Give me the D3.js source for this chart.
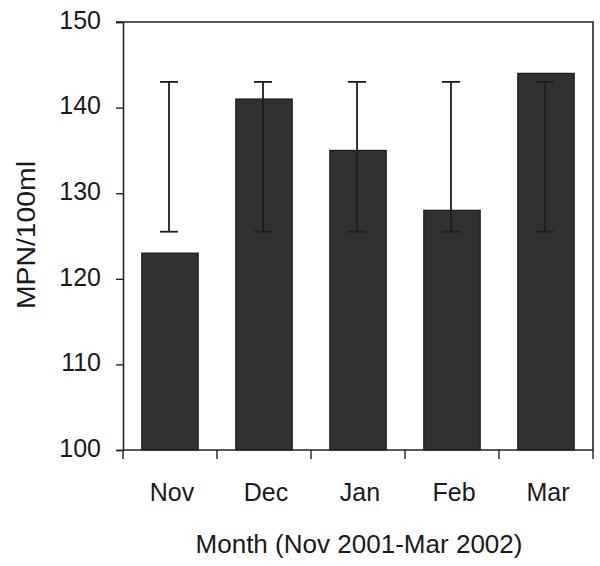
<!DOCTYPE html>
<meta charset="utf-8">
<style>
html,body{ margin:0; background:#fff; }
text{ font-family:"Liberation Sans", Arial, sans-serif; fill:#1a1a1a; }
</style>
<body>
<script src="https://d3js.org/d3.v7.min.js"></script>
<script>

var months = ["Nov","Dec","Jan","Feb","Mar"];
var mpn = [123, 141, 135, 128, 144];
var errLow = [125.5, 125.5, 125.5, 125.5, 125.5];
var errHigh = [143, 143, 143, 143, 143];
var yTicks = [100, 110, 120, 130, 140, 150];

var width = 600, height = 566;
var plotL = 123, plotR = 593, plotT = 22, plotB = 450;

var svg = d3.select("body").append("svg")
    .attr("width", width)
    .attr("height", height);

var x = d3.scaleBand()
    .domain(months)
    .range([plotL, plotR])
    .paddingInner(0.4)
    .paddingOuter(0.2);

var xb = d3.scaleBand().domain(months).range([plotL, plotR]);

var y = d3.scaleLinear()
    .domain([100, 150])
    .range([plotB, plotT]);

// frame top + right
svg.append("path")
    .attr("d", "M" + (plotL - 7) + "," + plotT + "H" + plotR + "V" + plotB)
    .attr("fill", "none")
    .attr("stroke", "#222")
    .attr("stroke-width", 1.6);

// bars
svg.selectAll(".bar")
    .data(months)
    .enter().append("rect")
    .attr("class", "bar")
    .attr("x", function(d){ return x(d); })
    .attr("width", x.bandwidth())
    .attr("y", function(d, i){ return y(mpn[i]); })
    .attr("height", function(d, i){ return plotB - y(mpn[i]); })
    .attr("fill", "#2f322f")
    .attr("stroke", "#1a1a1a")
    .attr("stroke-width", 1.2);

// error bars
var eb = svg.selectAll(".err")
    .data(months)
    .enter().append("g")
    .attr("class", "err")
    .attr("stroke", "#1e1e1e")
    .attr("stroke-width", 1.8);

eb.append("line")
    .attr("x1", function(d){ return x(d) + x.bandwidth() / 2 - 1; })
    .attr("x2", function(d){ return x(d) + x.bandwidth() / 2 - 1; })
    .attr("y1", function(d, i){ return y(errLow[i]); })
    .attr("y2", function(d, i){ return y(errHigh[i]); });

eb.append("line")
    .attr("x1", function(d){ return x(d) + x.bandwidth() / 2 - 10; })
    .attr("x2", function(d){ return x(d) + x.bandwidth() / 2 + 8; })
    .attr("y1", function(d, i){ return y(errHigh[i]); })
    .attr("y2", function(d, i){ return y(errHigh[i]); });

eb.append("line")
    .attr("x1", function(d){ return x(d) + x.bandwidth() / 2 - 10; })
    .attr("x2", function(d){ return x(d) + x.bandwidth() / 2 + 8; })
    .attr("y1", function(d, i){ return y(errLow[i]); })
    .attr("y2", function(d, i){ return y(errLow[i]); });

// y axis
var yAxis = svg.append("g")
    .attr("transform", "translate(" + plotL + ",0)")
    .call(d3.axisLeft(y).tickValues(yTicks).tickSize(7).tickPadding(15));
yAxis.select(".domain").attr("stroke", "#222").attr("stroke-width", 1.6);
yAxis.selectAll(".tick line").attr("stroke", "#222").attr("stroke-width", 1.4);
yAxis.selectAll(".tick text")
    .attr("font-size", 25)
    .attr("font-family", "Liberation Sans, Arial, sans-serif")
    .attr("fill", "#1a1a1a")
    .attr("dy", "0.25em");

// x axis: ticks at band boundaries
svg.append("line")
    .attr("x1", plotL).attr("x2", plotR)
    .attr("y1", plotB).attr("y2", plotB)
    .attr("stroke", "#222").attr("stroke-width", 1.6);

var bounds = months.map(function(d){ return xb(d); }).concat([plotR]);
svg.selectAll(".xt")
    .data(bounds)
    .enter().append("line")
    .attr("x1", function(d){ return d; })
    .attr("x2", function(d){ return d; })
    .attr("y1", plotB)
    .attr("y2", plotB + 9)
    .attr("stroke", "#222")
    .attr("stroke-width", 1.4);

svg.selectAll(".xl")
    .data(months)
    .enter().append("text")
    .attr("x", function(d){ return xb(d) + xb.bandwidth() / 2 + 2; })
    .attr("y", 501)
    .attr("text-anchor", "middle")
    .attr("font-size", 25)
    .text(function(d){ return d; });

svg.append("text")
    .attr("x", 359)
    .attr("y", 553)
    .attr("text-anchor", "middle")
    .attr("font-size", 25)
    .attr("textLength", 327)
    .attr("lengthAdjust", "spacingAndGlyphs")
    .text("Month (Nov 2001-Mar 2002)");

svg.append("text")
    .attr("transform", "translate(35,235) rotate(-90)")
    .attr("text-anchor", "middle")
    .attr("font-size", 26)
    .attr("textLength", 148)
    .attr("lengthAdjust", "spacingAndGlyphs")
    .text("MPN/100ml");

</script>
</body>
</html>
